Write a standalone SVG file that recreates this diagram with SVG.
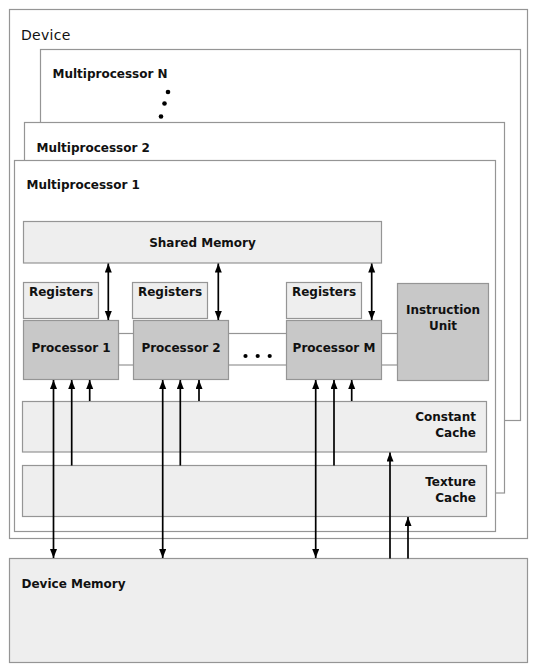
<svg xmlns="http://www.w3.org/2000/svg" width="537" height="671" viewBox="0 0 537 671">
<style>
.frame{fill:#ffffff;stroke:#959595;stroke-width:1.2}
.light{fill:#eeeeee;stroke:#959595;stroke-width:1.2}
.dark{fill:#c8c8c8;stroke:#959595;stroke-width:1.2}
.t{font-family:"DejaVu Sans",Verdana,sans-serif;font-size:12px;font-weight:bold;fill:#111111}
.tn{font-family:"DejaVu Sans",Verdana,sans-serif;font-size:14px;font-weight:normal;fill:#111111;letter-spacing:0.3px}
.c{text-anchor:middle}
.r{text-anchor:end}
.w{stroke:#000000;stroke-width:1.7;fill:none}
.dot{fill:#000000}
</style>
<defs>
<marker id="ah" markerUnits="userSpaceOnUse" markerWidth="10" markerHeight="8" refX="9" refY="3.5" orient="auto-start-reverse">
<path d="M0,0 L9,3.5 L0,7 Z" fill="#000000"/>
</marker>
</defs>
<rect width="537" height="671" fill="#ffffff"/>
<g id="device">
<rect class="frame" x="9.5" y="9.5" width="518" height="529"/>
<text class="tn" x="21" y="40">Device</text>
</g>
<g id="multiprocessor-n">
<rect class="frame" x="40.5" y="49.5" width="480" height="371"/>
<text class="t" x="52.5" y="77.5">Multiprocessor N</text>
<circle class="dot" cx="168" cy="92" r="2.3"/>
<circle class="dot" cx="164.5" cy="103.5" r="2.3"/>
<circle class="dot" cx="161" cy="116.5" r="2.3"/>
</g>
<g id="multiprocessor-2">
<rect class="frame" x="24.5" y="122.5" width="480" height="370.5"/>
<text class="t" x="36.5" y="152">Multiprocessor 2</text>
</g>
<g id="multiprocessor-1">
<rect class="frame" x="14.5" y="160.5" width="481" height="371"/>
<text class="t" x="26.5" y="189">Multiprocessor 1</text>
</g>
<g id="shared-memory">
<rect class="light" x="23.5" y="221.5" width="358" height="41.5"/>
<text class="t c" x="202.5" y="246.5">Shared Memory</text>
</g>
<g id="bus">
<rect class="frame" x="118.5" y="333.5" width="279" height="31.5"/>
<circle class="dot" cx="245.5" cy="356" r="2.1"/>
<circle class="dot" cx="257.7" cy="356" r="2.1"/>
<circle class="dot" cx="269.7" cy="356" r="2.1"/>
</g>
<g id="registers-1">
<rect class="light" x="23.5" y="282.5" width="75" height="36"/>
<text class="t c" x="61" y="296">Registers</text>
</g>
<g id="registers-2">
<rect class="light" x="132.5" y="282.5" width="75" height="36"/>
<text class="t c" x="170" y="296">Registers</text>
</g>
<g id="registers-m">
<rect class="light" x="286.5" y="282.5" width="75" height="36"/>
<text class="t c" x="324" y="296">Registers</text>
</g>
<g id="processor-1">
<rect class="dark" x="23.5" y="320.5" width="95" height="59"/>
<text class="t c" x="71" y="352">Processor 1</text>
</g>
<g id="processor-2">
<rect class="dark" x="133.5" y="320.5" width="95" height="59"/>
<text class="t c" x="181" y="352">Processor 2</text>
</g>
<g id="processor-m">
<rect class="dark" x="286.5" y="320.5" width="95" height="59"/>
<text class="t c" x="334" y="352">Processor M</text>
</g>
<g id="instruction-unit">
<rect class="dark" x="397.5" y="283.5" width="91" height="97"/>
<text class="t c" x="443" y="314">Instruction</text>
<text class="t c" x="443" y="330">Unit</text>
</g>
<g id="constant-cache">
<rect class="light" x="22.5" y="401.5" width="464" height="50.5"/>
<text class="t r" x="476" y="421">Constant</text>
<text class="t r" x="476" y="437">Cache</text>
</g>
<g id="texture-cache">
<rect class="light" x="22.5" y="465.5" width="464" height="51"/>
<text class="t r" x="476" y="486">Texture</text>
<text class="t r" x="476" y="502">Cache</text>
</g>
<g id="device-memory">
<rect class="light" x="9.5" y="558.5" width="518" height="104"/>
<text class="t" x="21.5" y="588">Device Memory</text>
</g>
<g id="connectors">
<line class="w" x1="108.3" y1="263.5" x2="108.3" y2="320" marker-start="url(#ah)" marker-end="url(#ah)"/>
<line class="w" x1="218.3" y1="263.5" x2="218.3" y2="320" marker-start="url(#ah)" marker-end="url(#ah)"/>
<line class="w" x1="371.7" y1="263.5" x2="371.7" y2="320" marker-start="url(#ah)" marker-end="url(#ah)"/>
<line class="w" x1="53.5" y1="380" x2="53.5" y2="558" marker-start="url(#ah)" marker-end="url(#ah)"/>
<line class="w" x1="162.7" y1="380" x2="162.7" y2="558" marker-start="url(#ah)" marker-end="url(#ah)"/>
<line class="w" x1="315.7" y1="380" x2="315.7" y2="558" marker-start="url(#ah)" marker-end="url(#ah)"/>
<line class="w" x1="71.7" y1="465.5" x2="71.7" y2="380" marker-end="url(#ah)"/>
<line class="w" x1="180.3" y1="465.5" x2="180.3" y2="380" marker-end="url(#ah)"/>
<line class="w" x1="334" y1="465.5" x2="334" y2="380" marker-end="url(#ah)"/>
<line class="w" x1="89.7" y1="401" x2="89.7" y2="380" marker-end="url(#ah)"/>
<line class="w" x1="199" y1="401" x2="199" y2="380" marker-end="url(#ah)"/>
<line class="w" x1="351.7" y1="401" x2="351.7" y2="380" marker-end="url(#ah)"/>
<line class="w" x1="390" y1="558.5" x2="390" y2="452.5" marker-end="url(#ah)"/>
<line class="w" x1="408" y1="558.5" x2="408" y2="517" marker-end="url(#ah)"/>
</g>
</svg>
